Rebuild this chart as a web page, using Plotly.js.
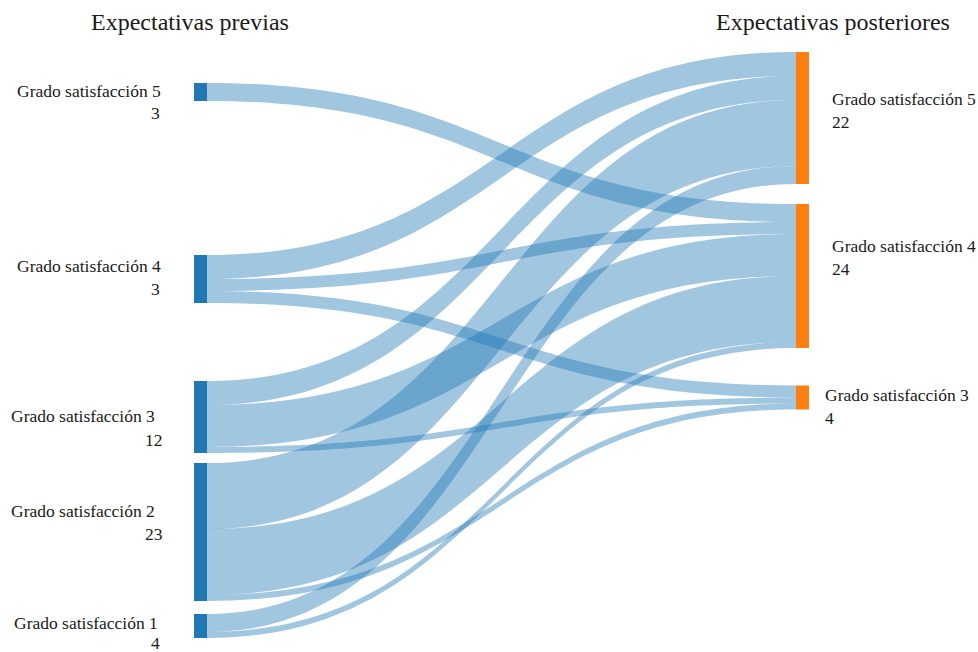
<!DOCTYPE html>
<html>
<head>
<meta charset="utf-8">
<script src="https://cdn.plot.ly/plotly-3.0.1.min.js"></script>
<style>html,body{margin:0;padding:0;background:#fff;}#chart{width:978px;height:652px;}</style>
</head>
<body>
<div id="chart"></div>
<script>
// ---- data ----
var leftLabels = ['Grado satisfacción 5', 'Grado satisfacción 4', 'Grado satisfacción 3', 'Grado satisfacción 2', 'Grado satisfacción 1'];
var leftCounts = ['3', '3', '12', '23', '4'];
var rightLabels = ['Grado satisfacción 5', 'Grado satisfacción 4', 'Grado satisfacción 3'];
var rightCounts = ['22', '24', '4'];
var columnTitles = ['Expectativas previas', 'Expectativas posteriores'];
// links: source index (left 0..4), target index (right 0..2), value
var linkSource = [0, 1, 1, 1, 2, 2, 2, 3, 3, 3, 4, 4];
var linkTarget = [1, 0, 1, 2, 0, 1, 2, 0, 1, 2, 0, 1];
var linkValue  = [3, 4, 2, 2, 4, 7, 1, 11, 11, 1, 3, 1];

// ---- layout / positions (pixels in a 978x652 frame) ----
var W = 978, H = 652;
var leftX = 200.5, rightX = 802.5;
var leftCenters = [92, 279, 417, 532, 626];
var rightCenters = [118, 276, 397.5];
var leftLabelY = [91, 266, 416, 511, 623];
var leftCountY = [113, 289, 440, 534, 643];
var leftLabelRight = [163, 163, 157, 157, 160];
var leftCountRight = [162, 162, 165, 165, 162];
var rightLabelY = [99, 246, 395];
var rightCountY = [122, 269, 418];
var rightLabelLeft = [830, 830, 823];

var nL = leftLabels.length;
var nodeX = [], nodeY = [], nodeColor = [], nodeLabel = [];
leftLabels.forEach(function (l, i) { nodeX.push(leftX / W); nodeY.push(leftCenters[i] / H); nodeColor.push('#1f77b4'); nodeLabel.push(''); });
rightLabels.forEach(function (l, i) { nodeX.push(rightX / W); nodeY.push(rightCenters[i] / H); nodeColor.push('#ff7f0e'); nodeLabel.push(''); });

var trace = {
  type: 'sankey',
  arrangement: 'fixed',
  domain: {x: [0, 1], y: [0, 1]},
  node: {
    label: nodeLabel,
    x: nodeX,
    y: nodeY,
    pad: 88,
    thickness: 13,
    color: nodeColor,
    line: {width: 0}
  },
  link: {
    source: linkSource,
    target: linkTarget.map(function (t) { return t + nL; }),
    value: linkValue,
    color: 'rgba(31,119,180,0.42)'
  }
};

var font = '"Liberation Serif", "Times New Roman", serif';
var ann = [];
function px(x) { return x / W; }
function py(y) { return 1 - y / H; }
var lblFont = {family: font, size: 17.5, color: '#1a1a1a'};
leftLabels.forEach(function (l, i) {
  ann.push({text: l, x: px(leftLabelRight[i]), y: py(leftLabelY[i]), xref: 'paper', yref: 'paper', xanchor: 'right', yanchor: 'middle', showarrow: false, font: lblFont});
  ann.push({text: leftCounts[i], x: px(leftCountRight[i]), y: py(leftCountY[i]), xref: 'paper', yref: 'paper', xanchor: 'right', yanchor: 'middle', showarrow: false, font: lblFont});
});
rightLabels.forEach(function (l, i) {
  ann.push({text: l, x: px(rightLabelLeft[i]), y: py(rightLabelY[i]), xref: 'paper', yref: 'paper', xanchor: 'left', yanchor: 'middle', showarrow: false, font: lblFont});
  ann.push({text: rightCounts[i], x: px(rightLabelLeft[i]), y: py(rightCountY[i]), xref: 'paper', yref: 'paper', xanchor: 'left', yanchor: 'middle', showarrow: false, font: lblFont});
});
ann.push({text: columnTitles[0], x: px(190), y: py(22), xref: 'paper', yref: 'paper', xanchor: 'center', yanchor: 'middle', showarrow: false, font: {family: font, size: 24, color: '#1a1a1a'}});
ann.push({text: columnTitles[1], x: px(833), y: py(22), xref: 'paper', yref: 'paper', xanchor: 'center', yanchor: 'middle', showarrow: false, font: {family: font, size: 24, color: '#1a1a1a'}});

var layout = {
  width: W, height: H,
  margin: {l: 0, r: 0, t: 0, b: 0},
  paper_bgcolor: '#fff',
  annotations: ann,
  font: {family: font}
};
Plotly.newPlot('chart', [trace], layout, {displayModeBar: false, staticPlot: true});
</script>
</body>
</html>
